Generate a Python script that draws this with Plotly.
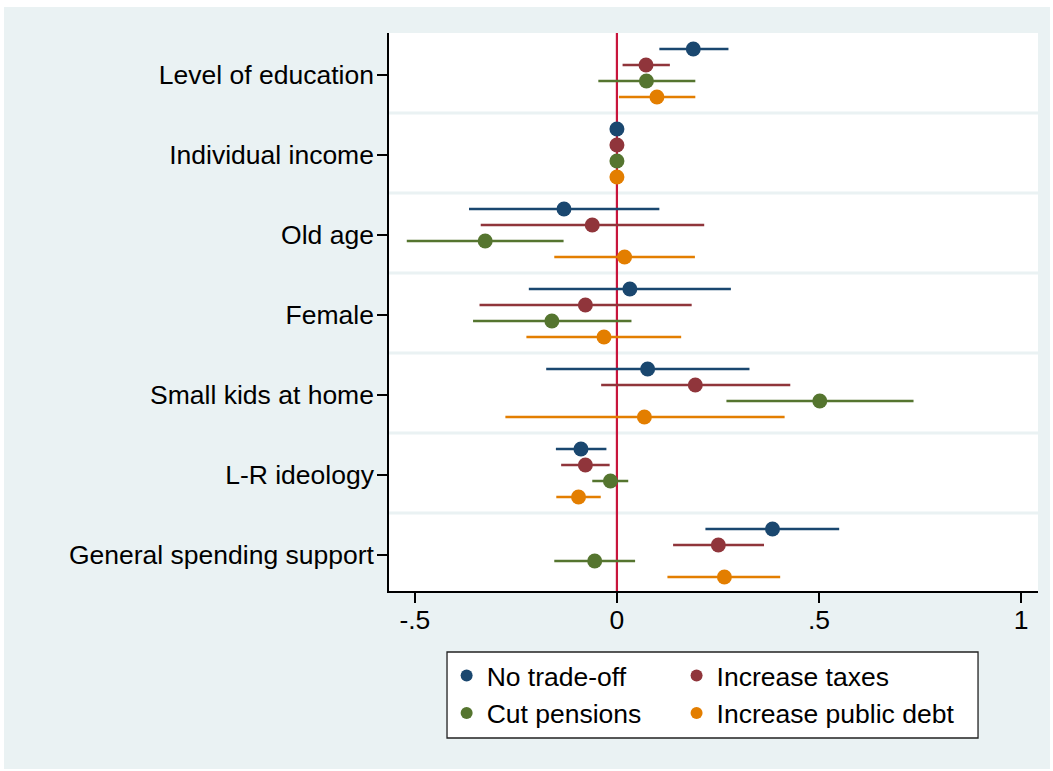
import plotly.graph_objects as go

# Covariates, listed top to bottom
categories = [
    "Level of education",
    "Individual income",
    "Old age",
    "Female",
    "Small kids at home",
    "L-R ideology",
    "General spending support",
]

series_names = ["No trade-off", "Increase taxes", "Cut pensions", "Increase public debt"]
series_colors = ["#1a476f", "#90353b", "#55752f", "#e37e00"]

# Point estimates and 95% confidence bounds for each scenario
no_tradeoff_coef = [0.189, 0.0, -0.131, 0.032, 0.076, -0.089, 0.385]
no_tradeoff_lo = [0.105, 0.0, -0.366, -0.218, -0.175, -0.151, 0.219]
no_tradeoff_hi = [0.276, 0.0, 0.105, 0.282, 0.328, -0.026, 0.550]

taxes_coef = [0.072, 0.0, -0.061, -0.078, 0.194, -0.078, 0.251]
taxes_lo = [0.014, 0.0, -0.337, -0.340, -0.039, -0.138, 0.139]
taxes_hi = [0.131, 0.0, 0.216, 0.185, 0.429, -0.018, 0.364]

pensions_coef = [0.073, 0.0, -0.326, -0.161, 0.502, -0.016, -0.055]
pensions_lo = [-0.046, 0.0, -0.520, -0.356, 0.271, -0.061, -0.155]
pensions_hi = [0.194, 0.0, -0.132, 0.036, 0.734, 0.028, 0.045]

debt_coef = [0.099, 0.0, 0.019, -0.032, 0.068, -0.095, 0.266]
debt_lo = [0.005, 0.0, -0.155, -0.224, -0.276, -0.150, 0.125]
debt_hi = [0.194, 0.0, 0.193, 0.159, 0.415, -0.040, 0.404]

x_tick_vals = [-0.5, 0, 0.5, 1]
x_tick_text = ["-.5", "0", ".5", "1"]

estimates = [
    (no_tradeoff_coef, no_tradeoff_lo, no_tradeoff_hi),
    (taxes_coef, taxes_lo, taxes_hi),
    (pensions_coef, pensions_lo, pensions_hi),
    (debt_coef, debt_lo, debt_hi),
]

# vertical offset of each scenario inside a covariate band
offsets = [-0.325, -0.125, 0.075, 0.275]

FONT = "Liberation Sans, Arial, Helvetica, sans-serif"
FS = 26.5
BG = "#EAF2F3"

fig = go.Figure()

for k, (name, color, (coef, lo, hi)) in enumerate(zip(series_names, series_colors, estimates)):
    ys = [i + offsets[k] for i in range(len(categories))]
    fig.add_trace(go.Scatter(
        x=coef, y=ys, mode="markers", name=name,
        marker=dict(color=color, size=15),
        error_x=dict(type="data", symmetric=False,
                     array=[h - c for h, c in zip(hi, coef)],
                     arrayminus=[c - l for c, l in zip(coef, lo)],
                     color=color, thickness=2.6, width=0),
        showlegend=False, hoverinfo="x+name",
    ))

# legend entries: two columns, each its own legend
legend_of = ["legend", "legend2", "legend", "legend2"]
for k, (name, color) in enumerate(zip(series_names, series_colors)):
    fig.add_trace(go.Scatter(
        x=[None], y=[None], mode="markers", name=name,
        marker=dict(color=color, size=12),
        legend=legend_of[k], showlegend=True,
    ))

shapes = []
# outer graph region
shapes.append(dict(type="rect", xref="paper", yref="paper",
                   x0=-0.5932, x1=1.0185, y0=-0.319, y1=1.0466,
                   fillcolor=BG, line=dict(width=0), layer="below"))
# plot region
shapes.append(dict(type="rect", xref="paper", yref="paper",
                   x0=0, x1=1, y0=0, y1=1,
                   fillcolor="white", line=dict(width=0), layer="below"))
# band separators
for i in range(len(categories) - 1):
    shapes.append(dict(type="line", xref="paper", yref="y",
                       x0=0, x1=1, y0=i + 0.475, y1=i + 0.475,
                       line=dict(color=BG, width=3), layer="below"))
# reference line at zero
shapes.append(dict(type="line", xref="x", yref="paper",
                   x0=0, x1=0, y0=0, y1=1,
                   line=dict(color="#C8153C", width=2.2), layer="below"))
# legend frame
shapes.append(dict(type="rect", xref="paper", yref="paper",
                   x0=0.0894, x1=0.9076, y0=-0.2634, y1=-0.1093,
                   fillcolor="white", line=dict(color="#222222", width=1.3),
                   layer="below"))

legend_common = dict(xanchor="left", yanchor="top", orientation="v",
                     bgcolor="rgba(0,0,0,0)", borderwidth=0,
                     font=dict(family=FONT, size=FS, color="black"),
                     itemwidth=30, tracegroupgap=0)

fig.update_layout(
    width=1053, height=771,
    margin=dict(l=389, r=15, t=33, b=180),
    paper_bgcolor="white", plot_bgcolor="white",
    font=dict(family=FONT, size=FS, color="black"),
    shapes=shapes,
    showlegend=True,
    legend=dict(x=0.0888, y=-0.109, **legend_common),
    legend2=dict(x=0.4431, y=-0.109, **legend_common),
    xaxis=dict(range=[-0.564, 1.042], tickvals=x_tick_vals, ticktext=x_tick_text,
               showgrid=False, zeroline=False, showline=True,
               linecolor="black", linewidth=1.5,
               ticks="outside", ticklen=10, tickwidth=1.5, tickcolor="black",
               ticklabelstandoff=-6,
               tickfont=dict(family=FONT, size=FS, color="black")),
    yaxis=dict(range=[6.45, -0.525], tickvals=list(range(len(categories))),
               ticktext=categories,
               showgrid=False, zeroline=False, showline=True,
               linecolor="black", linewidth=1.5,
               ticks="outside", ticklen=10, tickwidth=1.5, tickcolor="black",
               ticklabelstandoff=-2,
               tickfont=dict(family=FONT, size=FS, color="black")),
)

fig.write_html("out.html")
